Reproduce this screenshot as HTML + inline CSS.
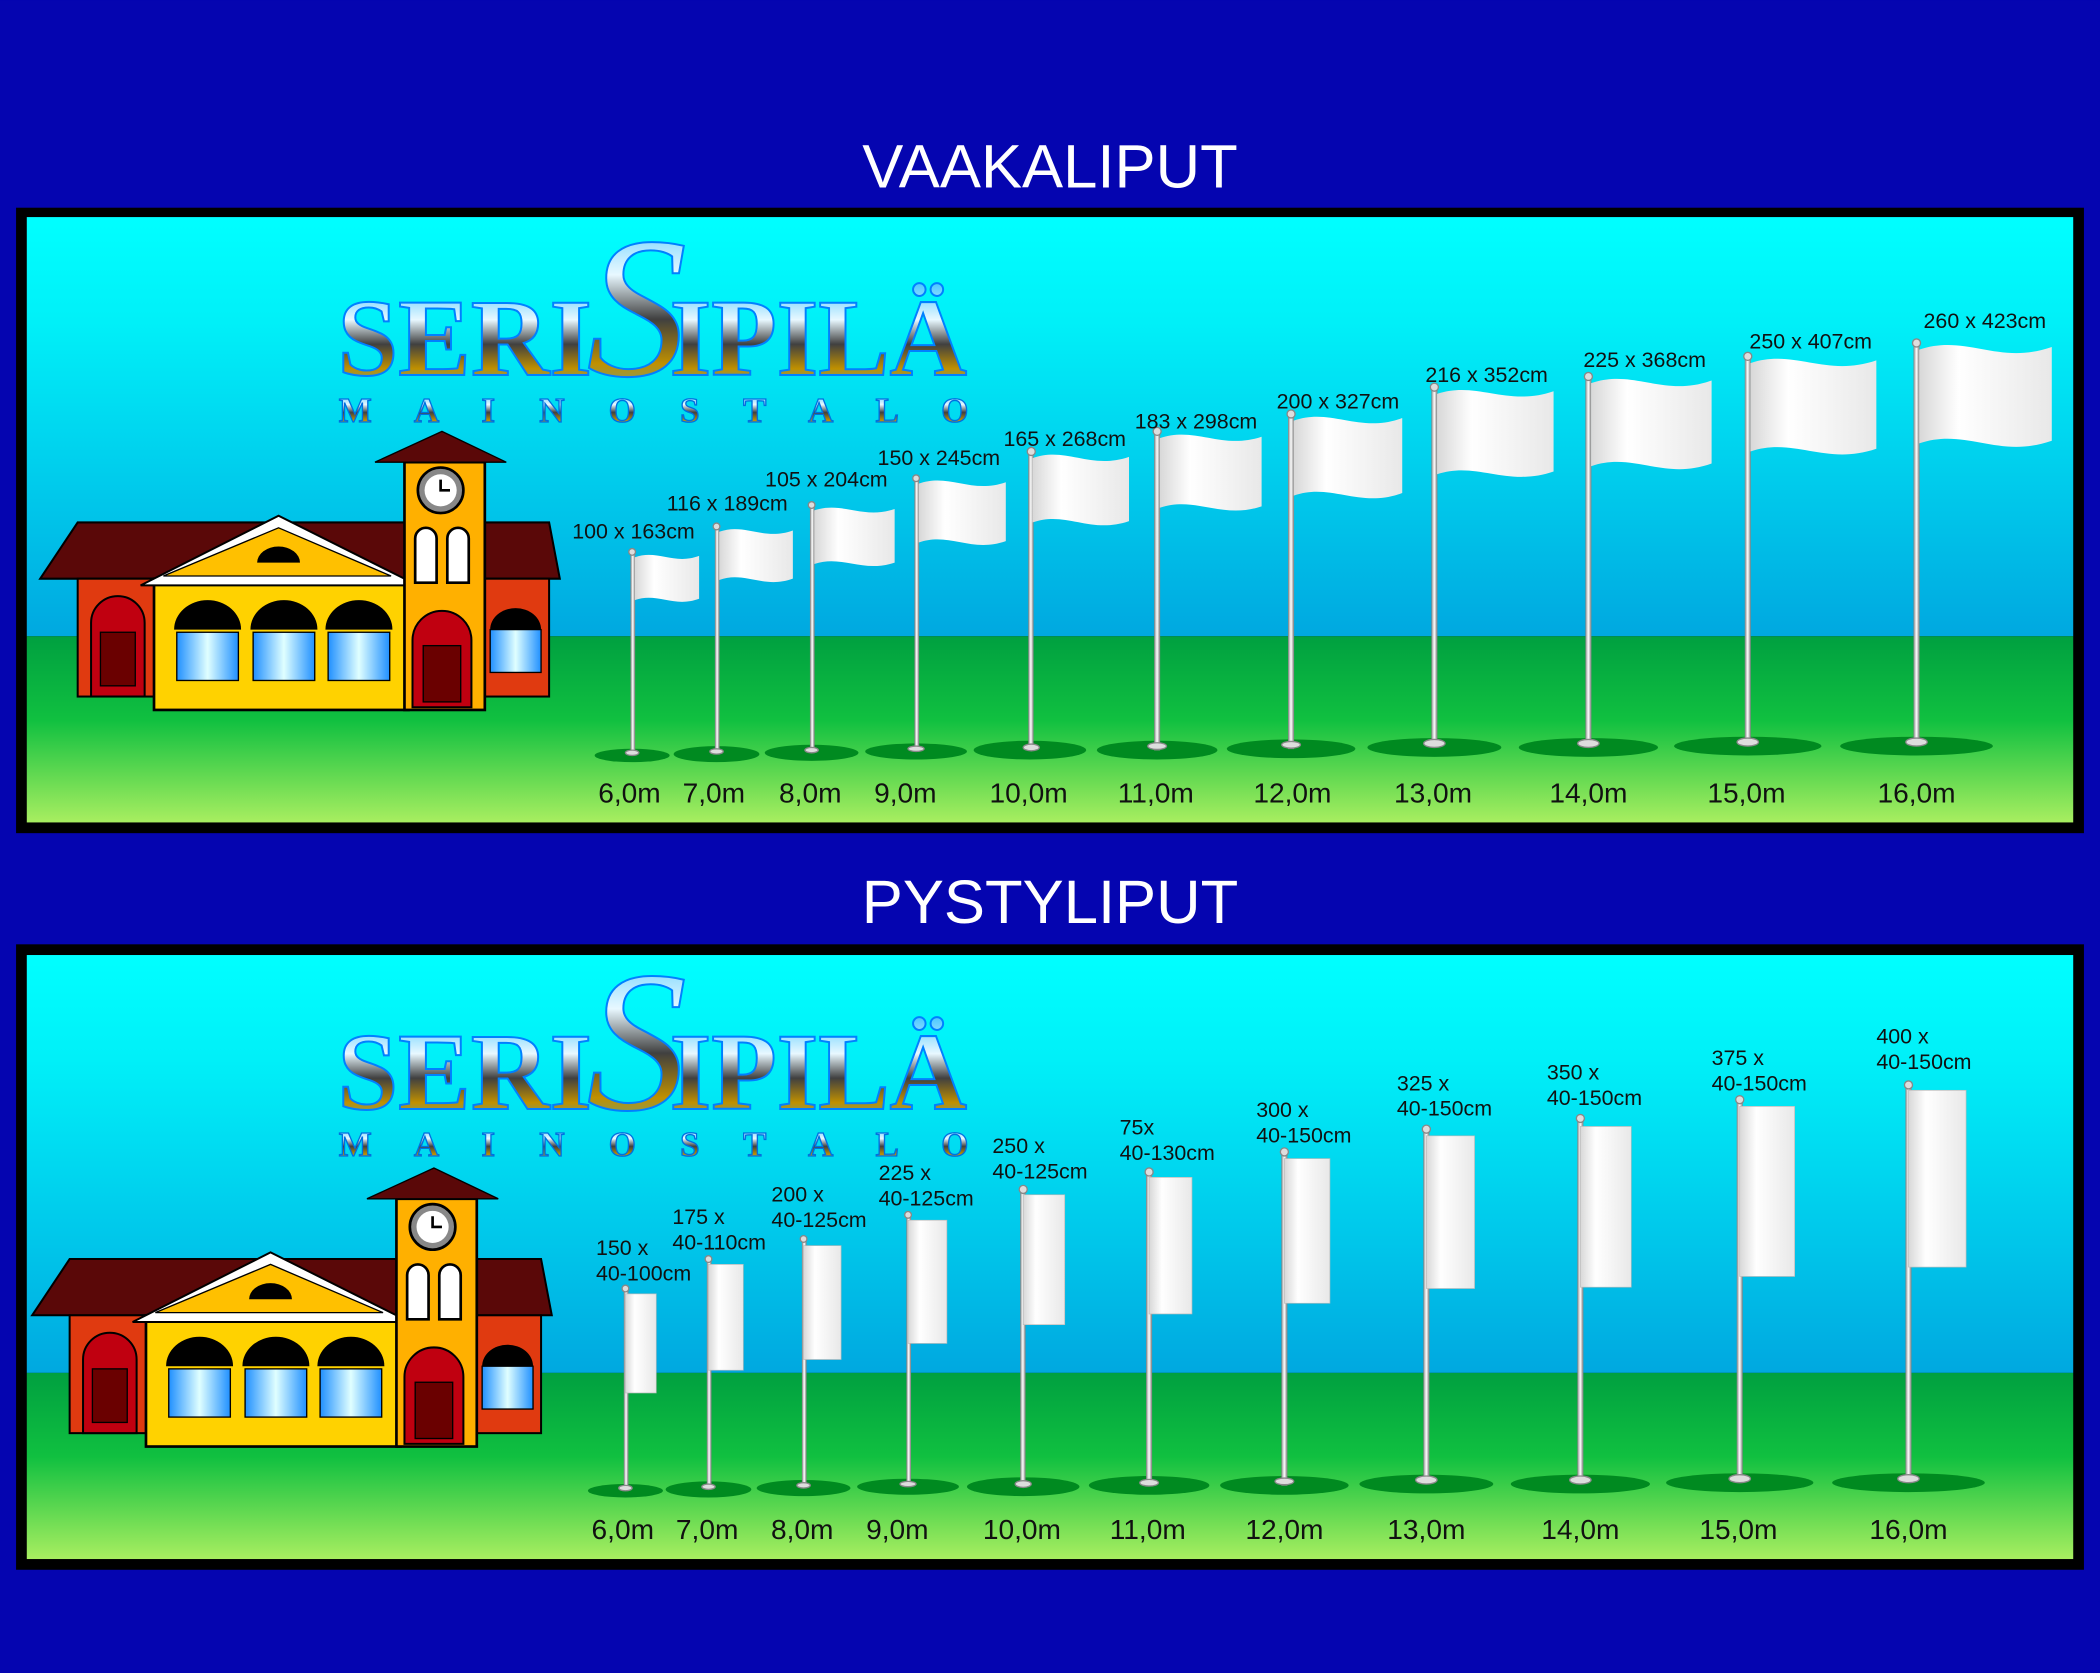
<!DOCTYPE html>
<html><head><meta charset="utf-8"><style>
html,body{margin:0;padding:0;background:#0505b0;}
svg{display:block}
</style></head><body>
<svg width="2100" height="1673" viewBox="0 0 1568 1249" xmlns="http://www.w3.org/2000/svg" font-family="Liberation Sans, DejaVu Sans, sans-serif">
<defs>
<linearGradient id="sky1" x1="0" y1="0" x2="0" y2="1">
<stop offset="0" stop-color="#00ffff"/><stop offset="0.25" stop-color="#00f0f8"/><stop offset="1" stop-color="#00a8e0"/></linearGradient>
<linearGradient id="grass" x1="0" y1="0" x2="0" y2="1">
<stop offset="0" stop-color="#00a040"/><stop offset="0.45" stop-color="#10c040"/><stop offset="1" stop-color="#a8ee60"/></linearGradient>
<linearGradient id="logo" x1="0" y1="0" x2="0" y2="1">
<stop offset="0" stop-color="#30c0ff"/><stop offset="0.35" stop-color="#e8f8ff"/><stop offset="0.55" stop-color="#404040"/><stop offset="0.75" stop-color="#c09000"/><stop offset="1" stop-color="#20b0ff"/></linearGradient>
<linearGradient id="flag" x1="0" y1="0" x2="1" y2="0">
<stop offset="0" stop-color="#d8d8d8"/><stop offset="0.3" stop-color="#ffffff"/><stop offset="1" stop-color="#e8e8e8"/></linearGradient>
<linearGradient id="pole" x1="0" y1="0" x2="1" y2="0">
<stop offset="0" stop-color="#999"/><stop offset="0.5" stop-color="#fff"/><stop offset="1" stop-color="#888"/></linearGradient>
<linearGradient id="win" x1="0" y1="0" x2="1" y2="0">
<stop offset="0" stop-color="#2090ff"/><stop offset="0.5" stop-color="#e0ffff"/><stop offset="1" stop-color="#2090ff"/></linearGradient>
<g id="bld">
<polygon points="30,432 58,390 410,390 418,432" fill="#5a0808" stroke="#000" stroke-width="1.5"/>
<rect x="58" y="432" width="57" height="88" fill="#e03a10" stroke="#000" stroke-width="1.5"/>
<rect x="360" y="432" width="50" height="88" fill="#e03a10" stroke="#000" stroke-width="1.5"/>
<path d="M68,520 V465 a20,20 0 0 1 40,0 V520Z" fill="#c00010" stroke="#000" stroke-width="1.5"/>
<rect x="75" y="472" width="26" height="40" fill="#6a0000" stroke="#000"/>
<rect x="115" y="432" width="190" height="98" fill="#ffd200" stroke="#000" stroke-width="2"/>
<polygon points="105,437 208,385 312,437" fill="#fff" stroke="#000" stroke-width="1.5"/>
<polygon points="122,430 208,394 292,430" fill="#ffc000" stroke="#000"/>
<path d="M192,420 a16,12 0 0 1 32,0Z" fill="#000"/>
<g fill="#000"><path d="M130,470 a25,22 0 0 1 50,0Z"/><path d="M187,470 a25,22 0 0 1 50,0Z"/><path d="M243,470 a25,22 0 0 1 50,0Z"/></g>
<g fill="url(#win)" stroke="#000"><rect x="132" y="472" width="46" height="36"/><rect x="189" y="472" width="46" height="36"/><rect x="245" y="472" width="46" height="36"/><rect x="366" y="470" width="38" height="32"/></g>
<path d="M366,470 a19,16 0 0 1 38,0Z" fill="#000"/>
<rect x="302" y="345" width="60" height="185" fill="#ffb000" stroke="#000" stroke-width="2"/>
<polygon points="280,345 330,322 378,345" fill="#5a0808" stroke="#000"/>
<circle cx="329" cy="366" r="17" fill="#888" stroke="#000" stroke-width="2"/><circle cx="329" cy="366" r="12" fill="#fff"/>
<path d="M329,358 V366 H336" stroke="#000" stroke-width="2" fill="none"/>
<path d="M310,435 V402 a8,8 0 0 1 16,0 V435Z M334,435 V402 a8,8 0 0 1 16,0 V435Z" fill="#fff" stroke="#000" stroke-width="2"/>
<path d="M308,528 V478 a22,22 0 0 1 44,0 V528Z" fill="#c00010" stroke="#000" stroke-width="1.5"/>
<rect x="316" y="482" width="28" height="42" fill="#6a0000" stroke="#000"/>
</g>
<g id="logoShape">
<text x="252" y="280" style="font-family:'Liberation Serif',serif;font-weight:bold;font-size:82px" fill="url(#logo)" stroke="#0080ff" stroke-width="1.5" textLength="190" lengthAdjust="spacingAndGlyphs">SERI</text>
<text x="438" y="280" style="font-family:'Liberation Serif',serif;font-style:italic;font-size:150px" fill="url(#logo)" stroke="#0080ff" stroke-width="1.5">S</text>
<text x="500" y="280" style="font-family:'Liberation Serif',serif;font-weight:bold;font-size:82px" fill="url(#logo)" stroke="#0080ff" stroke-width="1.5" textLength="222" lengthAdjust="spacingAndGlyphs">IPILÄ</text>
<text x="253" y="315" style="font-family:'Liberation Serif',serif;font-weight:bold;font-size:26px" fill="url(#logo)" stroke="#0070e0" stroke-width="1" textLength="470">M A I N O S T A L O</text>
</g>
</defs>

<rect width="1568" height="1249" fill="#0505b0"/>
<text x="784" y="140" text-anchor="middle" font-size="46" fill="#fff">VAAKALIPUT</text>
<text x="784" y="689" text-anchor="middle" font-size="46" fill="#fff">PYSTYLIPUT</text>

<!-- Panel 1 -->
<rect x="12" y="155" width="1544" height="467" fill="#000"/>
<rect x="20" y="162" width="1528" height="313" fill="url(#sky1)"/>
<rect x="20" y="475" width="1528" height="139" fill="url(#grass)"/>
<use href="#logoShape"/>
<use href="#bld"/>
<g fill="#008a20">
<ellipse cx="472" cy="564" rx="28" ry="5"/><ellipse cx="535" cy="563" rx="32" ry="6"/><ellipse cx="606" cy="562" rx="35" ry="6"/><ellipse cx="684" cy="561" rx="38" ry="6"/><ellipse cx="769" cy="560" rx="42" ry="7"/><ellipse cx="864" cy="560" rx="45" ry="7"/><ellipse cx="964" cy="559" rx="48" ry="7"/><ellipse cx="1071" cy="558" rx="50" ry="7"/><ellipse cx="1186" cy="558" rx="52" ry="7"/><ellipse cx="1305" cy="557" rx="55" ry="7"/><ellipse cx="1431" cy="557" rx="57" ry="7"/>
</g>
<g fill="url(#pole)" stroke="#888" stroke-width="0.5">
<rect x="471" y="412" width="3" height="152"/><rect x="534" y="393" width="3" height="170"/><rect x="605" y="377" width="3" height="185"/><rect x="683" y="357" width="3" height="204"/><rect x="768" y="337" width="3.5" height="223"/><rect x="862" y="322" width="4" height="238"/><rect x="962" y="309" width="4" height="250"/><rect x="1069" y="289" width="4" height="269"/><rect x="1184" y="281" width="4" height="277"/><rect x="1303" y="266" width="4" height="291"/><rect x="1429" y="256" width="4" height="301"/>
</g>
<g fill="#ddd" stroke="#888">
<circle cx="472" cy="412" r="2.5"/><circle cx="535" cy="393" r="2.5"/><circle cx="606" cy="377" r="2.5"/><circle cx="684" cy="357" r="2.5"/><circle cx="770" cy="337" r="3"/><circle cx="864" cy="322" r="3"/><circle cx="964" cy="309" r="3"/><circle cx="1071" cy="289" r="3"/><circle cx="1186" cy="281" r="3"/><circle cx="1305" cy="266" r="3"/><circle cx="1431" cy="256" r="3"/>
<ellipse cx="472" cy="562" rx="5" ry="2"/><ellipse cx="535" cy="561" rx="5" ry="2"/><ellipse cx="606" cy="560" rx="5" ry="2"/><ellipse cx="684" cy="559" rx="6" ry="2"/><ellipse cx="770" cy="558" rx="6" ry="2.5"/><ellipse cx="864" cy="557" rx="7" ry="2.5"/><ellipse cx="964" cy="556" rx="7" ry="2.5"/><ellipse cx="1071" cy="555" rx="8" ry="3"/><ellipse cx="1186" cy="555" rx="8" ry="3"/><ellipse cx="1305" cy="554" rx="8" ry="3"/><ellipse cx="1431" cy="554" rx="8" ry="3"/>
</g>
<g fill="url(#flag)">
<path d="M474,416 C491,410 503,422 522,415 V447 C503,454 491,442 474,448Z"/>
<path d="M537,397 C556,390 570,404 592,396 V432 C570,440 556,426 537,433Z"/>
<path d="M608,381 C629,374 644,388 668,380 V420 C644,428 629,414 608,421Z"/>
<path d="M686,361 C709,353 725,369 751,360 V404 C725,413 709,397 686,405Z"/>
<path d="M771,342 C796,333 814,351 843,341 V389 C814,399 796,381 771,390Z"/>
<path d="M866,327 C893,318 912,336 942,326 V378 C912,388 893,370 866,379Z"/>
<path d="M966,314 C994,304 1015,324 1047,312 V368 C1015,380 994,360 966,370Z"/>
<path d="M1073,294 C1103,284 1125,304 1160,292 V352 C1125,364 1103,344 1073,354Z"/>
<path d="M1188,286 C1220,275 1242,297 1278,284 V346 C1242,359 1220,337 1188,348Z"/>
<path d="M1307,271 C1340,260 1363,282 1401,269 V335 C1363,348 1340,326 1307,337Z"/>
<path d="M1433,261 C1468,249 1492,273 1532,259 V329 C1492,343 1468,319 1433,331Z"/>
</g>
<g font-size="16" fill="#111" text-anchor="middle">
<text x="473" y="402">100 x 163cm</text><text x="543" y="381">116 x 189cm</text><text x="617" y="363">105 x 204cm</text><text x="701" y="347">150 x 245cm</text><text x="795" y="333">165 x 268cm</text><text x="893" y="320">183 x 298cm</text><text x="999" y="305">200 x 327cm</text><text x="1110" y="285">216 x 352cm</text><text x="1228" y="274">225 x 368cm</text><text x="1352" y="260">250 x 407cm</text><text x="1482" y="245">260 x 423cm</text>
</g>
<g font-size="21" fill="#111" text-anchor="middle">
<text x="470" y="599">6,0m</text><text x="533" y="599">7,0m</text><text x="605" y="599">8,0m</text><text x="676" y="599">9,0m</text><text x="768" y="599">10,0m</text><text x="863" y="599">11,0m</text><text x="965" y="599">12,0m</text><text x="1070" y="599">13,0m</text><text x="1186" y="599">14,0m</text><text x="1304" y="599">15,0m</text><text x="1431" y="599">16,0m</text>
</g>

<!-- Panel 2 -->
<rect x="12" y="705" width="1544" height="467" fill="#000"/>
<rect x="20" y="713" width="1528" height="312" fill="url(#sky1)"/>
<rect x="20" y="1025" width="1528" height="139" fill="url(#grass)"/>
<use href="#logoShape" y="548"/>
<use href="#bld" x="-6" y="550"/>
<g fill="#008a20">
<ellipse cx="467" cy="1113" rx="28" ry="5"/><ellipse cx="529" cy="1112" rx="32" ry="6"/><ellipse cx="600" cy="1111" rx="35" ry="6"/><ellipse cx="678" cy="1110" rx="38" ry="6"/><ellipse cx="764" cy="1110" rx="42" ry="7"/><ellipse cx="858" cy="1109" rx="45" ry="7"/><ellipse cx="959" cy="1109" rx="48" ry="7"/><ellipse cx="1065" cy="1108" rx="50" ry="7"/><ellipse cx="1180" cy="1108" rx="52" ry="7"/><ellipse cx="1299" cy="1107" rx="55" ry="7"/><ellipse cx="1425" cy="1107" rx="57" ry="7"/>
</g>
<g fill="url(#pole)" stroke="#888" stroke-width="0.5">
<rect x="466" y="962" width="3" height="151"/><rect x="528" y="940" width="3" height="172"/><rect x="599" y="925" width="3" height="186"/><rect x="677" y="907" width="3" height="203"/><rect x="762" y="888" width="3.5" height="222"/><rect x="856" y="875" width="4" height="234"/><rect x="957" y="860" width="4" height="249"/><rect x="1063" y="843" width="4" height="265"/><rect x="1178" y="835" width="4" height="273"/><rect x="1297" y="821" width="4" height="286"/><rect x="1423" y="810" width="4" height="297"/>
</g>
<g fill="#ddd" stroke="#888">
<circle cx="467" cy="962" r="2.5"/><circle cx="529" cy="940" r="2.5"/><circle cx="600" cy="925" r="2.5"/><circle cx="678" cy="907" r="2.5"/><circle cx="764" cy="888" r="3"/><circle cx="858" cy="875" r="3"/><circle cx="959" cy="860" r="3"/><circle cx="1065" cy="843" r="3"/><circle cx="1180" cy="835" r="3"/><circle cx="1299" cy="821" r="3"/><circle cx="1425" cy="810" r="3"/>
<ellipse cx="467" cy="1111" rx="5" ry="2"/><ellipse cx="529" cy="1110" rx="5" ry="2"/><ellipse cx="600" cy="1109" rx="5" ry="2"/><ellipse cx="678" cy="1108" rx="6" ry="2"/><ellipse cx="764" cy="1108" rx="6" ry="2.5"/><ellipse cx="858" cy="1107" rx="7" ry="2.5"/><ellipse cx="959" cy="1106" rx="7" ry="2.5"/><ellipse cx="1065" cy="1105" rx="8" ry="3"/><ellipse cx="1180" cy="1105" rx="8" ry="3"/><ellipse cx="1299" cy="1104" rx="8" ry="3"/><ellipse cx="1425" cy="1104" rx="8" ry="3"/>
</g>
<g fill="url(#flag)" stroke="#bbb" stroke-width="0.5">
<rect x="467" y="966" width="23" height="74"/><rect x="529" y="944" width="26" height="79"/><rect x="600" y="930" width="28" height="85"/><rect x="678" y="911" width="29" height="92"/><rect x="764" y="892" width="31" height="97"/><rect x="858" y="879" width="32" height="102"/><rect x="959" y="865" width="34" height="108"/><rect x="1065" y="848" width="36" height="114"/><rect x="1180" y="841" width="38" height="120"/><rect x="1299" y="826" width="41" height="127"/><rect x="1425" y="814" width="43" height="132"/>
</g>
<g font-size="16" fill="#111">
<text x="445" y="937">150 x</text><text x="445" y="956">40-100cm</text>
<text x="502" y="914">175 x</text><text x="502" y="933">40-110cm</text>
<text x="576" y="897">200 x</text><text x="576" y="916">40-125cm</text>
<text x="656" y="881">225 x</text><text x="656" y="900">40-125cm</text>
<text x="741" y="861">250 x</text><text x="741" y="880">40-125cm</text>
<text x="836" y="847">75x</text><text x="836" y="866">40-130cm</text>
<text x="938" y="834">300 x</text><text x="938" y="853">40-150cm</text>
<text x="1043" y="814">325 x</text><text x="1043" y="833">40-150cm</text>
<text x="1155" y="806">350 x</text><text x="1155" y="825">40-150cm</text>
<text x="1278" y="795">375 x</text><text x="1278" y="814">40-150cm</text>
<text x="1401" y="779">400 x</text><text x="1401" y="798">40-150cm</text>
</g>
<g font-size="21" fill="#111" text-anchor="middle">
<text x="465" y="1149">6,0m</text><text x="528" y="1149">7,0m</text><text x="599" y="1149">8,0m</text><text x="670" y="1149">9,0m</text><text x="763" y="1149">10,0m</text><text x="857" y="1149">11,0m</text><text x="959" y="1149">12,0m</text><text x="1065" y="1149">13,0m</text><text x="1180" y="1149">14,0m</text><text x="1298" y="1149">15,0m</text><text x="1425" y="1149">16,0m</text>
</g>
</svg>
</body></html>
